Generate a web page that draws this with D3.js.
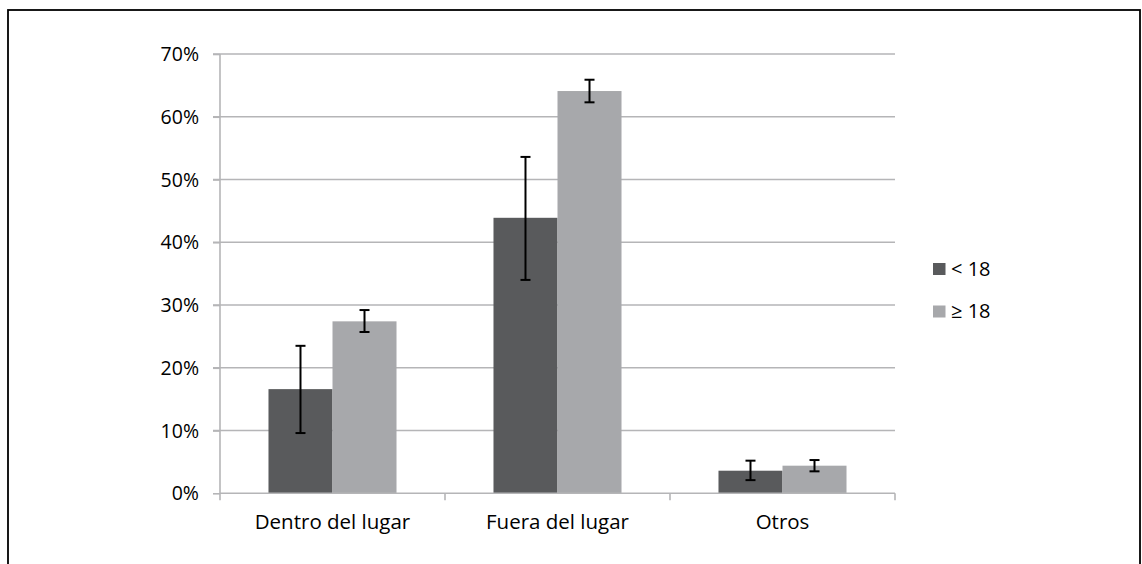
<!DOCTYPE html>
<html>
<head>
<meta charset="utf-8">
<script src="https://cdn.jsdelivr.net/npm/d3@7"></script>
<style>
  html, body { margin: 0; padding: 0; background: #fff; }
  svg { display: block; }
  text { font-family: "Open Sans", "Noto Sans", sans-serif; fill: #000; }
</style>
</head>
<body>
<svg id="chart" width="1142" height="564"></svg>
<script>
// Categories and series
const categories = ["Dentro del lugar", "Fuera del lugar", "Otros"];
const seriesNames = ["< 18", "\u2265 18"];
const seriesColors = ["#595a5c", "#a7a8ab"];

// Percent values per series (one entry per category)
const under18 = [16.6, 43.9, 3.6];
const over18 = [27.4, 64.1, 4.4];

// Error bar bounds (low, high) per series
const under18Low = [9.6, 34.0, 2.1];
const under18High = [23.5, 53.6, 5.2];
const over18Low = [25.7, 62.3, 3.5];
const over18High = [29.2, 65.9, 5.3];

// Y-axis ticks
const yTicks = [0, 10, 20, 30, 40, 50, 60, 70];

const svg = d3.select("#chart");

// Outer frame
svg.append("rect")
  .attr("x", 8).attr("y", 10)
  .attr("width", 1132).attr("height", 600)
  .attr("fill", "none")
  .attr("stroke", "#000")
  .attr("stroke-width", 1.8);

const plot = { left: 220, right: 895, top: 54, bottom: 493.3 };

const y = d3.scaleLinear().domain([0, 70]).range([plot.bottom, plot.top]);
const x = d3.scaleBand().domain(categories)
  .range([plot.left, plot.right])
  .paddingInner(0.431).paddingOuter(0.2155);
const xs = d3.scaleBand().domain([0, 1]).range([0, x.bandwidth()]);

const gridColor = "#b5b5b7";
const fontSize = "20px";

// Horizontal gridlines with outward ticks on the left
svg.append("g").selectAll("line").data(yTicks.filter(d => d > 0)).join("line")
  .attr("x1", plot.left - 7).attr("x2", plot.right)
  .attr("y1", d => y(d)).attr("y2", d => y(d))
  .attr("stroke", gridColor).attr("stroke-width", 1.6);

// Y axis
const yAxis = d3.axisLeft(y).tickValues(yTicks).tickFormat(d => d + "%").tickSize(7).tickPadding(14);
const yg = svg.append("g").attr("transform", `translate(${plot.left},0)`).call(yAxis);
yg.select(".domain").remove();
yg.selectAll(".tick line").attr("stroke", gridColor).attr("stroke-width", 1.6);
yg.selectAll(".tick text").style("font-size", "19.5px").attr("fill", "#000").attr("dy", "0.34em");
svg.append("line")
  .attr("x1", plot.left).attr("x2", plot.left)
  .attr("y1", plot.top).attr("y2", plot.bottom + 7)
  .attr("stroke", gridColor).attr("stroke-width", 1.6);

// Bars
const values = [under18, over18];
const lows = [under18Low, over18Low];
const highs = [under18High, over18High];

const rows = [];
categories.forEach((c, i) => {
  values.forEach((v, s) => rows.push({ c, s, v: v[i], lo: lows[s][i], hi: highs[s][i] }));
});

svg.append("g").selectAll("rect").data(rows).join("rect")
  .attr("x", d => x(d.c) + xs(d.s))
  .attr("y", d => y(d.v))
  .attr("width", xs.bandwidth())
  .attr("height", d => y(0) - y(d.v))
  .attr("fill", d => seriesColors[d.s]);

// X axis with tick marks between categories
const xAxisY = plot.bottom;
svg.append("line")
  .attr("x1", plot.left).attr("x2", plot.right)
  .attr("y1", xAxisY).attr("y2", xAxisY)
  .attr("stroke", gridColor).attr("stroke-width", 1.6);
const boundaries = categories.map((_, i) => plot.left + (i + 1) * x.step());
svg.append("g").selectAll("line").data(boundaries).join("line")
  .attr("x1", d => d).attr("x2", d => d)
  .attr("y1", xAxisY).attr("y2", xAxisY + 7)
  .attr("stroke", gridColor).attr("stroke-width", 1.6);

svg.append("g").selectAll("text").data(categories).join("text")
  .attr("x", d => x(d) + x.bandwidth() / 2)
  .attr("y", 529)
  .attr("text-anchor", "middle")
  .style("font-size", "20.5px")
  .text(d => d);

// Error bars
const eb = svg.append("g").attr("stroke", "#000").attr("stroke-width", 2);
rows.forEach(d => {
  const cx = x(d.c) + xs(d.s) + xs.bandwidth() / 2;
  eb.append("line").attr("x1", cx).attr("x2", cx).attr("y1", y(d.lo)).attr("y2", y(d.hi));
  eb.append("line").attr("x1", cx - 5).attr("x2", cx + 5).attr("y1", y(d.lo)).attr("y2", y(d.lo));
  eb.append("line").attr("x1", cx - 5).attr("x2", cx + 5).attr("y1", y(d.hi)).attr("y2", y(d.hi));
});

// Legend
const legend = svg.append("g").attr("transform", "translate(933,263)");
seriesNames.forEach((name, i) => {
  const g = legend.append("g").attr("transform", `translate(0,${i * 42.5})`);
  g.append("rect").attr("width", 12.5).attr("height", 12)
    .attr("fill", seriesColors[i]);
  g.append("text").attr("x", 18).attr("y", 12.5)
    .style("font-size", fontSize).text(name);
});
</script>
</body>
</html>
